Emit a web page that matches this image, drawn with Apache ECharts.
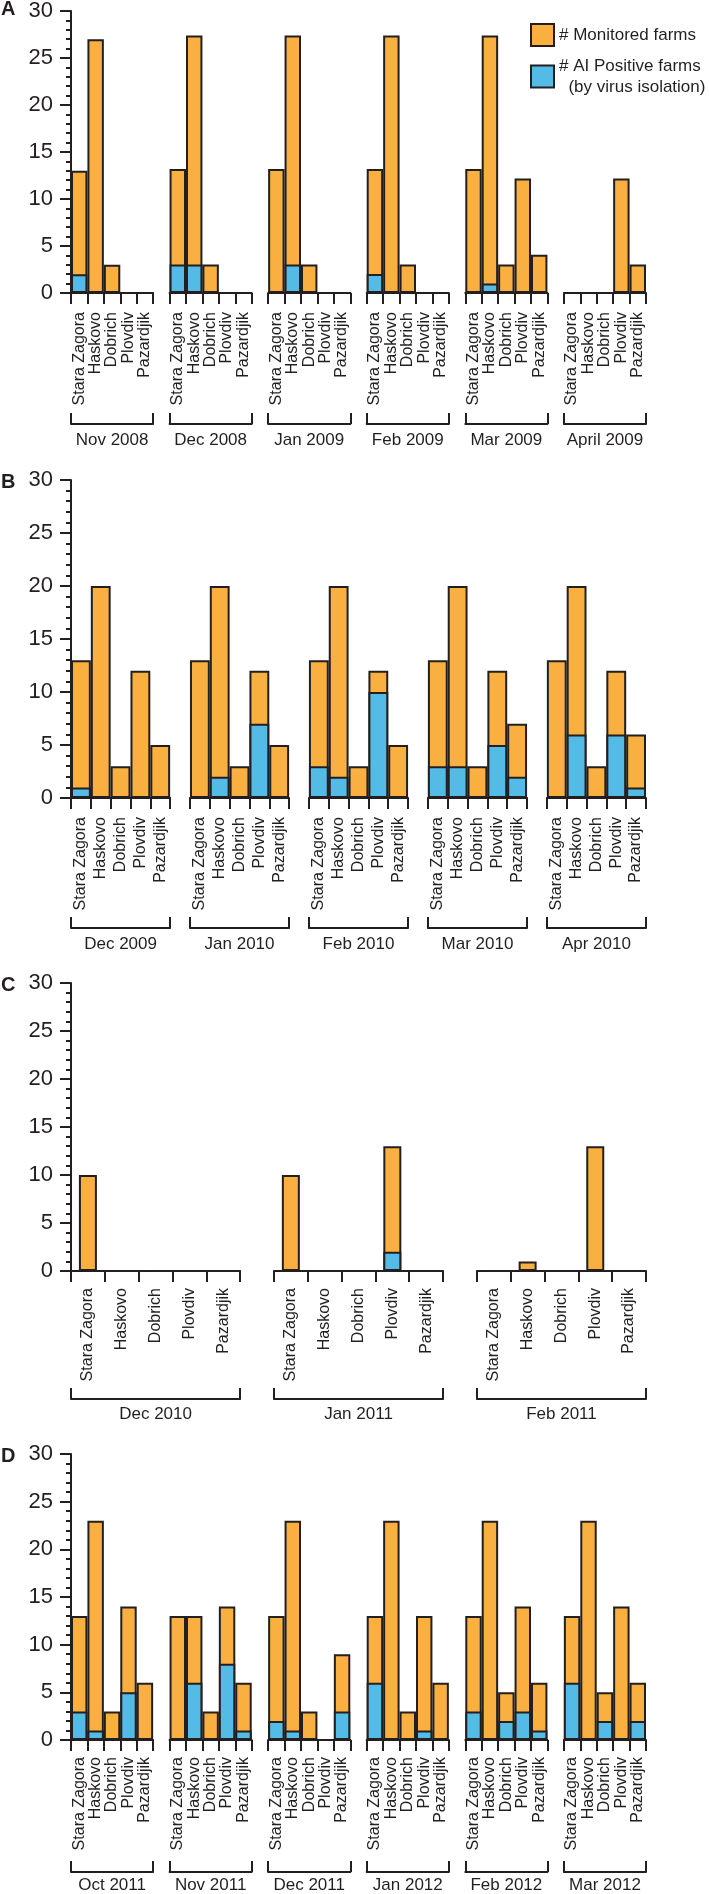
<!DOCTYPE html>
<html lang="en">

<head>
    <meta charset="UTF-8">
    <title>AI surveillance</title>
    <style>
        * {
            margin: 0;
            padding: 0;
        }

        body {
            background: #fff;
        }

        .box {
            width: 709px;
            height: 1894px;
        }
    </style>
</head>

<body>
    <div class="box" id="main"></div>

    <script src="https://cdn.jsdelivr.net/npm/echarts@6/dist/echarts.min.js"></script>
    <script>
        var districts = ['Stara Zagora', 'Haskovo', 'Dobrich', 'Plovdiv', 'Pazardjik'];
        var MON = '# Monitored farms';
        var POS = '# AI Positive farms';

        // panel A
        var monthsA = ['Nov 2008', 'Dec 2008', 'Jan 2009', 'Feb 2009', 'Mar 2009', 'April 2009'];
        var monitoredA = [
            [13, 27, 3, 0, 0],
            [13, 27, 3, 0, 0],
            [13, 27, 3, 0, 0],
            [13, 27, 3, 0, 0],
            [13, 27, 3, 12, 4],
            [0, 0, 0, 12, 3]
        ];
        var positiveA = [
            [2, 0, 0, 0, 0],
            [3, 3, 0, 0, 0],
            [0, 3, 0, 0, 0],
            [2, 0, 0, 0, 0],
            [0, 1, 0, 0, 0],
            [0, 0, 0, 0, 0]
        ];

        // panel B
        var monthsB = ['Dec 2009', 'Jan 2010', 'Feb 2010', 'Mar 2010', 'Apr 2010'];
        var monitoredB = [
            [13, 20, 3, 12, 5],
            [13, 20, 3, 12, 5],
            [13, 20, 3, 12, 5],
            [13, 20, 3, 12, 7],
            [13, 20, 3, 12, 6]
        ];
        var positiveB = [
            [1, 0, 0, 0, 0],
            [0, 2, 0, 7, 0],
            [3, 2, 0, 10, 0],
            [3, 3, 0, 5, 2],
            [0, 6, 0, 6, 1]
        ];

        // panel C
        var monthsC = ['Dec 2010', 'Jan 2011', 'Feb 2011'];
        var monitoredC = [
            [10, 0, 0, 0, 0],
            [10, 0, 0, 13, 0],
            [0, 1, 0, 13, 0]
        ];
        var positiveC = [
            [0, 0, 0, 0, 0],
            [0, 0, 0, 2, 0],
            [0, 0, 0, 0, 0]
        ];

        // panel D
        var monthsD = ['Oct 2011', 'Nov 2011', 'Dec 2011', 'Jan 2012', 'Feb 2012', 'Mar 2012'];
        var monitoredD = [
            [13, 23, 3, 14, 6],
            [13, 13, 3, 14, 6],
            [13, 23, 3, 0, 9],
            [13, 23, 3, 13, 6],
            [13, 23, 5, 14, 6],
            [13, 23, 5, 14, 6]
        ];
        var positiveD = [
            [3, 1, 0, 5, 0],
            [0, 6, 0, 8, 1],
            [2, 1, 0, 0, 3],
            [6, 0, 0, 1, 0],
            [3, 0, 2, 3, 1],
            [6, 0, 2, 0, 2]
        ];

        var ink = '#231f20';
        var orange = '#fab040';
        var blue = '#54bbe6';
        var font = 'Liberation Sans';

        var option = {
            animation: false,
            backgroundColor: '#fff',
            textStyle: { fontFamily: font, color: ink },
            title: [],
            legend: {
                orient: 'vertical',
                left: 525,
                top: 18,
                itemWidth: 23,
                itemHeight: 22,
                itemGap: -2,
                icon: 'rect',
                selectedMode: false,
                textStyle: { fontSize: 17, color: ink, fontFamily: font },
                formatter: function (name) {
                    return name === POS ? name + '\n  (by virus isolation)' : name;
                },
                data: [
                    { name: MON },
                    { name: POS, textStyle: { padding: [21, 0, 0, 0], lineHeight: 21 } }
                ]
            },
            grid: [],
            xAxis: [],
            yAxis: [],
            series: []
        };

        function addPanel(letter, months, monitored, positive, p) {
            option.title.push({
                text: letter,
                left: 1,
                top: p.top - 8,
                padding: 0,
                textStyle: { fontSize: 20, fontWeight: 'bold', color: ink, fontFamily: font }
            });
            var slot = 575 / (months.length * 6 - 1);
            months.forEach(function (month, g) {
                var gi = option.grid.length;
                option.grid.push({
                    left: 71 + g * 6 * slot,
                    top: p.top,
                    width: 5 * slot,
                    height: p.height
                });
                option.xAxis.push({
                    type: 'category',
                    gridIndex: gi,
                    position: 'bottom',
                    data: districts,
                    axisLine: { onZero: false, lineStyle: { color: ink, width: 2 } },
                    axisTick: { show: true, interval: 0, length: 11, lineStyle: { color: ink, width: 2 } },
                    axisLabel: { interval: 0, rotate: 90, fontSize: 16, margin: p.labelMargin, color: ink, fontFamily: font },
                    splitLine: { show: false }
                });
                // bracket with month name under each group
                option.xAxis.push({
                    type: 'category',
                    gridIndex: gi,
                    position: 'bottom',
                    offset: p.bracket,
                    data: [month],
                    axisLine: { onZero: false, lineStyle: { color: ink, width: 2 } },
                    axisTick: { show: true, inside: true, length: 11, lineStyle: { color: ink, width: 2 } },
                    axisLabel: { interval: 0, fontSize: 17, margin: p.monthMargin, color: ink, fontFamily: font },
                    splitLine: { show: false }
                });
                option.yAxis.push({
                    type: 'value',
                    gridIndex: gi,
                    show: g === 0,
                    min: 0,
                    max: 30,
                    interval: 5,
                    axisLine: { show: true, lineStyle: { color: ink, width: 2 } },
                    axisTick: { show: true, length: 11, lineStyle: { color: ink, width: 2 } },
                    minorTick: { show: true, splitNumber: 5, length: 5, lineStyle: { color: ink, width: 2 } },
                    axisLabel: { fontSize: 22, margin: 18, color: ink, fontFamily: font },
                    splitLine: { show: false }
                });
                var xi = gi * 2;
                option.series.push({
                    type: 'bar',
                    name: MON,
                    xAxisIndex: xi,
                    yAxisIndex: gi,
                    data: monitored[g],
                    barGap: '-100%',
                    barCategoryGap: p.barWidth ? undefined : '0%',
                    barWidth: p.barWidth,
                    itemStyle: { color: orange, borderColor: ink, borderWidth: 2 }
                });
                option.series.push({
                    type: 'bar',
                    name: POS,
                    xAxisIndex: xi,
                    yAxisIndex: gi,
                    data: positive[g],
                    barGap: '-100%',
                    barCategoryGap: p.barWidth ? undefined : '0%',
                    barWidth: p.barWidth,
                    itemStyle: { color: blue, borderColor: ink, borderWidth: 2 }
                });
            });
        }

        addPanel('A', monthsA, monitoredA, positiveA, { top: 7, height: 286, bracket: 131, labelMargin: 19, monthMargin: 8 });
        addPanel('B', monthsB, monitoredB, positiveB, { top: 480, height: 318, bracket: 130, labelMargin: 19, monthMargin: 8 });
        addPanel('C', monthsC, monitoredC, positiveC, { top: 983, height: 288, bracket: 128, labelMargin: 17, monthMargin: 7, barWidth: 18 });
        addPanel('D', monthsD, monitoredD, positiveD, { top: 1454, height: 287, bracket: 132, labelMargin: 17, monthMargin: 5 });

        var myChart = echarts.init(document.getElementById('main'));
        myChart.setOption(option);
    </script>
</body>

</html>
